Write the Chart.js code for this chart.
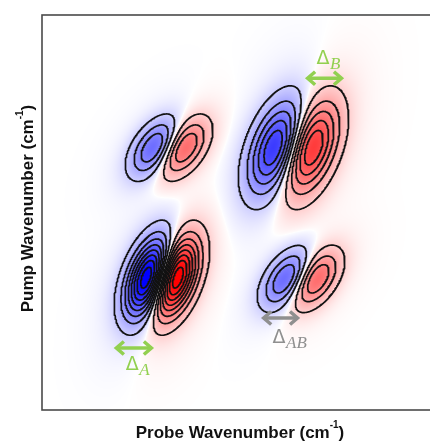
<!DOCTYPE html>
<html>
<head>
<meta charset="utf-8">
<script src="https://cdn.jsdelivr.net/npm/chart.js@4.4.0/dist/chart.umd.min.js"></script>
<style>
  html, body { margin: 0; padding: 0; background: #fff; overflow: hidden; }
  canvas { display: block; }
</style>
</head>
<body>
<canvas id="spectrum" width="440" height="441"></canvas>
<script>
// Peak pairs: A and B on the diagonal, two cross peaks between them.
// Each pair = bleach (blue, negative) Gaussian + excited-state absorption (red, positive) Gaussian.
const pairNames   = ['A', 'B', 'cross upper', 'cross lower'];
const bleachProbe = [27.1, 58.95, 28.3, 61.6];
const absorbProbe = [33.5, 68.05, 35.9, 69.2];
const pairPump    = [33.5, 66.4, 66.4, 33.2];
const pairPeak    = [1.0, 0.66, 0.43, 0.43];   // extreme signal of each pair
const widthAlong  = [6.8, 8.0, 5.3, 5.3];      // Gaussian sigma along the tilt
const widthAcross = [3.25, 3.8, 2.95, 2.95];   // Gaussian sigma across the tilt
const tiltDeg     = [70, 70, 55, 55];
const contourLevels = [0.08, 0.20, 0.32, 0.44, 0.56, 0.68, 0.80, 0.92];

// Anharmonic shift markers
const shiftNames = ['A', 'B', 'AB'];
const shiftFrom  = [18.4, 66.7, 55.6];
const shiftTo    = [28.0, 76.0, 64.9];
const shiftPump  = [15.7, 84.0, 23.3];

const axisTitleX = 'Probe Wavenumber (cm';
const axisTitleY = 'Pump Wavenumber (cm';
const axisUnitSup = '-1';

const style = {
  shiftColor: ['#92d050', '#92d050', '#8f8f8f'],
  labelDy: [22, -14, 25],       // Δ baseline offset from its arrow (px)
  haze: 0.06,                   // soft glow around each peak in the colour map
  hazeSpread: 3.2
};

// Grid used for scaling and contouring (data units)
const STEP = 0.25, NX = 401, NY = 401;

function gaussSum(list, x, y, spread = 1) {
  let f = 0;
  for (const g of list) {
    const dx = x - g.cx, dy = y - g.cy;
    const q = (g.m11 * dx * dx + 2 * g.m12 * dx * dy + g.m22 * dy * dy) / spread;
    if (q < 60) f += g.amp * Math.exp(-0.5 * q);
  }
  return f;
}

// Build the Gaussians; each pair is scaled so its extreme equals pairPeak
const gaussians = [];
pairNames.forEach((_, i) => {
  const t = tiltDeg[i] * Math.PI / 180, c = Math.cos(t), s = Math.sin(t);
  const ia = 1 / (widthAlong[i] ** 2), ib = 1 / (widthAcross[i] ** 2);
  const m = { m11: c * c * ia + s * s * ib, m22: s * s * ia + c * c * ib, m12: c * s * (ia - ib) };
  const pair = [
    { ...m, cx: bleachProbe[i], cy: pairPump[i], amp: -1 },
    { ...m, cx: absorbProbe[i], cy: pairPump[i], amp: 1 }
  ];
  let unitMax = 0;
  const mx = (bleachProbe[i] + absorbProbe[i]) / 2, my = pairPump[i];
  for (let y = my - 20; y <= my + 20; y += STEP / 2)
    for (let x = mx - 20; x <= mx + 20; x += STEP / 2)
      unitMax = Math.max(unitMax, Math.abs(gaussSum(pair, x, y)));
  pair.forEach(g => { g.amp *= pairPeak[i] / unitMax; gaussians.push(g); });
});

const signal = (x, y) => gaussSum(gaussians, x, y);

const grid = new Float64Array(NX * NY);
for (let j = 0; j < NY; j++)
  for (let i = 0; i < NX; i++) grid[j * NX + i] = signal(i * STEP, j * STEP);
const peakMax = Math.max(...pairPeak);

// Marching squares, chained into polylines
const CASES = [[], [[3, 0]], [[0, 1]], [[3, 1]], [[1, 2]], [[3, 2], [0, 1]], [[0, 2]], [[3, 2]],
               [[2, 3]], [[0, 2]], [[0, 3], [1, 2]], [[1, 2]], [[1, 3]], [[0, 1]], [[0, 3]], []];
function isolines(sign, level) {
  const val = k => sign * grid[k];
  const pts = new Map(), nb = new Map();
  const edge = (i, j, e) => {
    // e: 0 bottom, 1 right, 2 top, 3 left of cell (i,j)
    let id, ax, ay, bx, by;
    if (e === 0) { id = (j * NX + i) * 2; ax = i; ay = j; bx = i + 1; by = j; }
    else if (e === 2) { id = ((j + 1) * NX + i) * 2; ax = i; ay = j + 1; bx = i + 1; by = j + 1; }
    else if (e === 3) { id = (j * NX + i) * 2 + 1; ax = i; ay = j; bx = i; by = j + 1; }
    else { id = (j * NX + i + 1) * 2 + 1; ax = i + 1; ay = j; bx = i + 1; by = j + 1; }
    if (!pts.has(id)) {
      const av = val(ay * NX + ax), bv = val(by * NX + bx);
      const t = (level - av) / (bv - av);
      pts.set(id, { x: (ax + t * (bx - ax)) * STEP, y: (ay + t * (by - ay)) * STEP });
    }
    return id;
  };
  const link = (a, b) => {
    if (!nb.has(a)) nb.set(a, []);
    if (!nb.has(b)) nb.set(b, []);
    nb.get(a).push(b); nb.get(b).push(a);
  };
  for (let j = 0; j < NY - 1; j++) {
    for (let i = 0; i < NX - 1; i++) {
      const k = j * NX + i;
      const c = (val(k) > level ? 1 : 0) | (val(k + 1) > level ? 2 : 0) |
                (val(k + NX + 1) > level ? 4 : 0) | (val(k + NX) > level ? 8 : 0);
      for (const [e1, e2] of CASES[c]) link(edge(i, j, e1), edge(i, j, e2));
    }
  }
  const seen = new Set(), lines = [];
  const walk = start => {
    const line = [pts.get(start)];
    seen.add(start);
    let prev = -1, cur = start;
    for (;;) {
      const next = nb.get(cur).find(n => n !== prev && !seen.has(n));
      if (next === undefined) {
        if (nb.get(cur).includes(start) && line.length > 2) line.push(pts.get(start));
        break;
      }
      seen.add(next); line.push(pts.get(next));
      prev = cur; cur = next;
    }
    return line;
  };
  for (const [id, list] of nb) if (list.length === 1 && !seen.has(id)) lines.push(walk(id));
  for (const id of nb.keys()) if (!seen.has(id)) lines.push(walk(id));
  return lines;
}

const datasets = [];
for (const sign of [-1, 1]) {
  for (const level of contourLevels) {
    for (const line of isolines(sign, level * peakMax)) {
      datasets.push({
        data: line, showLine: true, borderColor: '#121212', borderWidth: 1.7,
        borderCapStyle: 'round', borderJoinStyle: 'round',
        pointRadius: 0, spanGaps: false, fill: false, tension: 0
      });
    }
  }
}

// Colour map behind the contours: white at zero, blue for bleach, red for absorption
const shading = {
  id: 'shading',
  beforeDatasetsDraw(chart) {
    const { ctx, chartArea: a, scales: { x: xs, y: ys } } = chart;
    const w = Math.round(a.right - a.left), h = Math.round(a.bottom - a.top);
    const off = document.createElement('canvas');
    off.width = w; off.height = h;
    const octx = off.getContext('2d');
    const img = octx.createImageData(w, h);
    for (let j = 0; j < h; j++) {
      const vy = ys.getValueForPixel(a.top + j + 0.5);
      for (let i = 0; i < w; i++) {
        const vx = xs.getValueForPixel(a.left + i + 0.5);
        const f = (signal(vx, vy) + style.haze * gaussSum(gaussians, vx, vy, style.hazeSpread)) / peakMax;
        const k = Math.min(1, Math.pow(Math.abs(f), 0.7));
        const o = (j * w + i) * 4;
        if (f < 0) {
          img.data[o] = 255 * (1 - k); img.data[o + 1] = 255 * (1 - k); img.data[o + 2] = 255;
        } else {
          img.data[o] = 255; img.data[o + 1] = 255 * (1 - k); img.data[o + 2] = 255 * (1 - k);
        }
        img.data[o + 3] = 255;
      }
    }
    octx.putImageData(img, 0, 0);
    ctx.drawImage(off, a.left, a.top);
  }
};

function drawTitle(ctx, main, sup, cx, baseline) {
  const mainFont = 'bold 17px "Liberation Sans", Arial, sans-serif';
  const supFont = 'bold 10px "Liberation Sans", Arial, sans-serif';
  ctx.font = mainFont;
  const wm = ctx.measureText(main).width, wp = ctx.measureText(')').width;
  ctx.font = supFont;
  const ws = ctx.measureText(sup).width;
  let x = cx - (wm + ws + wp) / 2;
  ctx.fillStyle = '#111';
  ctx.textBaseline = 'alphabetic';
  ctx.textAlign = 'left';
  ctx.font = mainFont; ctx.fillText(main, x, baseline); x += wm;
  ctx.font = supFont; ctx.fillText(sup, x, baseline - 10); x += ws;
  ctx.font = mainFont; ctx.fillText(')', x, baseline);
}

function arrow(ctx, x1, x2, y, color) {
  ctx.save();
  ctx.strokeStyle = color; ctx.lineWidth = 3.5; ctx.lineCap = 'butt'; ctx.lineJoin = 'miter';
  ctx.beginPath(); ctx.moveTo(x1 + 2, y); ctx.lineTo(x2 - 2, y); ctx.stroke();
  const hl = 9, hw = 6.5;
  ctx.beginPath();
  ctx.moveTo(x1 + hl, y - hw); ctx.lineTo(x1 + 1.5, y); ctx.lineTo(x1 + hl, y + hw);
  ctx.moveTo(x2 - hl, y - hw); ctx.lineTo(x2 - 1.5, y); ctx.lineTo(x2 - hl, y + hw);
  ctx.stroke();
  ctx.restore();
}

const frame = {
  id: 'frame',
  afterDraw(chart) {
    const { ctx, chartArea: a, scales: { x: xs, y: ys } } = chart;
    ctx.save();
    ctx.strokeStyle = '#4a4a4a'; ctx.lineWidth = 1.6;
    ctx.strokeRect(a.left, a.top, a.right - a.left, a.bottom - a.top);

    shiftNames.forEach((name, i) => {
      const x1 = xs.getPixelForValue(shiftFrom[i]), x2 = xs.getPixelForValue(shiftTo[i]);
      const y = ys.getPixelForValue(shiftPump[i]);
      const col = style.shiftColor[i];
      arrow(ctx, x1, x2, y, col);
      const lx = (x1 + x2) / 2 - 8, ly = y + style.labelDy[i];
      ctx.fillStyle = col; ctx.textAlign = 'left'; ctx.textBaseline = 'alphabetic';
      ctx.font = '19px "DejaVu Sans", sans-serif';
      ctx.fillText('\u0394', lx, ly);
      const wd = ctx.measureText('\u0394').width;
      ctx.font = 'italic 17px "Liberation Serif", "DejaVu Serif", serif';
      ctx.fillText(name, lx + wd + 0.5, ly + 5);
    });

    drawTitle(ctx, axisTitleX, axisUnitSup, (a.left + a.right) / 2, 438);
    ctx.translate(33, (a.top + a.bottom) / 2 - 4);
    ctx.rotate(-Math.PI / 2);
    drawTitle(ctx, axisTitleY, axisUnitSup, 0, 0);
    ctx.restore();
  }
};

new Chart(document.getElementById('spectrum'), {
  type: 'scatter',
  data: { datasets },
  options: {
    responsive: false,
    animation: false,
    events: [],
    layout: { padding: { left: 42, top: 15, right: 2, bottom: 31 } },
    scales: {
      x: { type: 'linear', min: 0, max: 100, display: false },
      y: { type: 'linear', min: 0, max: 100, display: false }
    },
    plugins: { legend: { display: false }, tooltip: { enabled: false } },
    elements: { point: { radius: 0 }, line: { tension: 0 } }
  },
  plugins: [shading, frame]
});
</script>
</body>
</html>
